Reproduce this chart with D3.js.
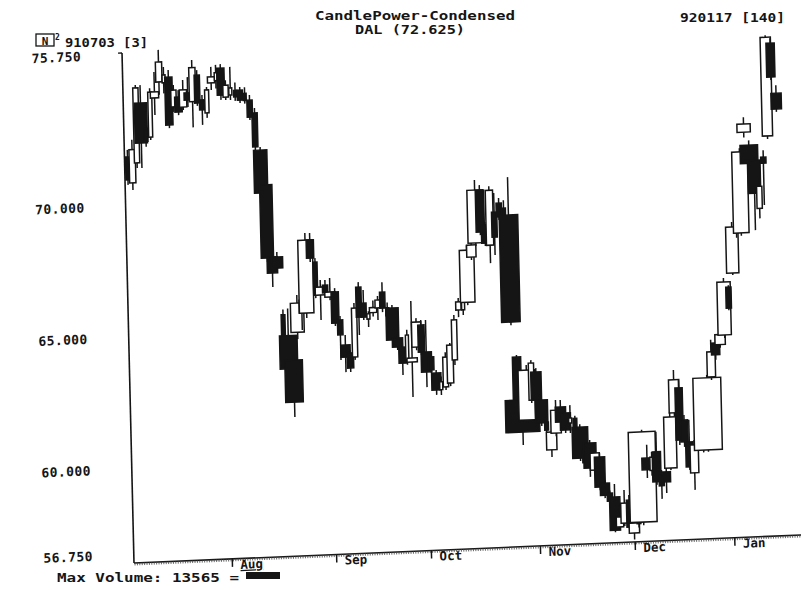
<!DOCTYPE html>
<html><head><meta charset="utf-8">
<script src="https://cdn.jsdelivr.net/npm/d3@7"></script>
<style>
body{margin:0;background:#fff}
text{font-family:"DejaVu Sans Mono","Liberation Mono",monospace;font-weight:bold;fill:#151515}
</style>
</head><body><svg id="c" width="801" height="590"></svg>
<script>
// ---- data (DAL daily, 910703 .. 920117) ----
const opens = [71.84,70.85,71.60,73.87,72.90,72.56,74.04,74.64,74.60,74.81,73.67,74.04,73.65,74.18,73.84,74.84,73.89,73.39,74.52,74.60,
75.07,73.96,74.03,74.20,74.20,74.07,73.81,73.31,71.89,70.56,67.81,67.80,65.60,64.80,63.86,64.91,66.13,65.63,68.40,67.55,
66.29,66.66,66.20,66.38,65.31,64.35,64.04,63.88,66.53,65.91,65.30,65.54,65.71,66.30,65.70,65.68,64.53,64.18,63.69,63.60,
64.16,64.99,63.96,63.76,63.14,62.50,62.60,62.74,63.61,65.50,65.50,65.78,67.49,68.02,70.02,68.69,67.91,69.16,69.50,69.30,
69.03,63.62,61.98,61.21,61.96,63.02,61.95,61.10,60.04,60.67,61.65,61.42,61.03,61.20,60.86,59.90,60.24,59.20,59.69,58.69,
58.30,58.15,57.00,57.14,58.01,56.75,57.10,57.15,59.58,59.10,59.80,58.90,59.02,59.16,61.25,62.19,60.96,60.12,58.94,60.10,
59.85,59.79,62.56,63.84,63.77,64.13,65.94,66.47,68.00,67.98,71.80,71.30,70.72,68.88,70.82,71.62,75.14,73.23];
const highs = [72.11,72.49,74.56,74.55,73.20,74.42,75.03,75.86,75.20,75.08,74.50,74.30,74.68,74.78,75.42,75.03,74.08,74.37,75.13,75.20,
75.22,74.60,75.10,74.50,74.32,74.30,74.00,73.50,72.01,70.67,68.00,67.99,65.80,65.83,64.05,66.33,66.32,68.67,68.66,67.70,
66.86,66.85,66.92,66.53,65.46,64.73,64.15,65.93,66.72,66.41,65.60,66.00,66.16,66.68,65.90,65.80,64.65,64.34,64.83,65.92,
65.26,65.18,65.17,63.87,63.26,63.00,63.92,64.26,65.32,65.96,66.00,67.95,68.14,70.41,70.21,68.80,70.15,69.89,69.69,69.60,
70.47,63.70,62.09,63.30,63.48,63.17,62.06,61.40,60.80,61.93,61.92,61.53,61.71,61.30,60.97,60.10,60.35,59.96,59.84,58.81,
58.40,58.64,57.83,58.40,58.20,57.24,57.50,60.66,60.08,59.80,60.56,59.10,59.29,61.29,62.88,62.50,61.15,60.96,60.19,60.20,
60.30,62.64,63.97,64.15,64.34,66.29,66.01,68.41,68.70,71.20,72.37,71.48,70.83,70.02,71.08,75.45,75.33,73.53];
const lows = [70.78,70.58,71.41,71.40,72.20,72.45,73.39,74.15,74.20,72.87,73.48,73.35,73.54,73.64,72.86,73.67,72.94,73.20,74.25,74.30,
73.86,73.85,73.84,73.80,73.71,73.68,73.05,71.90,70.15,67.63,66.67,67.23,64.60,63.35,61.70,64.65,64.99,65.44,67.56,66.18,
65.34,66.24,66.08,65.09,63.79,63.32,63.32,63.77,64.71,65.27,65.00,65.39,65.25,65.54,65.20,64.35,64.08,63.12,63.50,62.27,
64.04,63.85,62.62,63.15,62.31,62.30,62.48,62.62,63.42,65.23,65.30,65.67,67.38,67.90,68.31,67.89,67.23,67.53,68.86,68.70,
64.84,61.87,60.27,61.10,61.85,61.84,60.96,60.50,59.77,60.55,60.97,60.66,60.65,60.40,59.57,59.30,58.95,59.09,58.43,58.12,
57.80,56.81,56.88,57.03,56.87,56.50,56.95,57.03,58.82,58.90,58.54,58.00,58.22,59.08,61.13,60.02,59.94,59.05,58.29,59.80,
59.70,59.72,62.44,63.20,63.65,64.01,65.06,66.39,67.80,67.87,71.60,70.50,68.06,68.50,69.00,71.50,73.74,72.52];
const closes = [70.97,72.11,74.45,72.35,72.40,74.27,74.27,75.40,74.90,72.99,74.31,73.47,74.30,73.91,75.13,73.78,73.51,74.26,74.75,74.90,
74.04,74.41,74.30,73.95,73.82,73.80,73.16,72.02,70.26,67.78,67.20,67.38,64.80,63.54,62.26,66.02,65.64,68.40,67.71,66.29,
66.59,66.36,66.39,65.20,64.74,63.89,63.47,65.74,65.39,65.38,65.50,65.73,66.01,65.69,65.40,64.47,64.19,63.57,64.63,63.75,
65.11,63.96,63.20,63.27,62.50,62.80,63.73,64.18,65.13,65.81,65.90,67.76,67.95,70.03,68.43,68.00,70.00,68.21,68.97,69.00,
64.96,61.98,60.76,63.11,63.37,61.96,61.08,60.80,60.72,61.54,61.08,60.77,61.22,60.60,59.68,59.50,59.29,59.85,58.55,58.23,
58.00,56.88,57.38,57.90,56.98,57.13,57.30,60.58,59.13,59.60,58.66,58.50,58.64,61.10,62.51,60.21,60.13,59.17,60.00,60.00,
60.10,62.53,63.51,63.39,64.15,66.14,65.14,68.22,68.50,71.06,72.11,70.61,69.46,69.72,70.59,75.37,73.85,72.625];
const volumes = [1600,2500,2100,4900,1500,1600,3300,2500,1200,2900,2100,2900,2900,2900,2500,2100,2100,1600,2900,1200,
2900,2100,1200,1200,2100,1200,2100,2100,5300,4900,4100,4500,1500,7000,7000,5300,2100,5800,2900,1600,
4100,2100,4100,2900,2100,3700,2500,2100,2100,2100,1200,2900,2100,2100,1200,4900,4100,2900,1200,4100,
3700,2500,4100,2100,3700,1200,2100,2500,2100,2100,1200,5800,3700,6200,3300,2900,2900,2100,2100,1500,
7400,3300,13565,6600,2100,4100,4900,1500,4100,4100,4100,4100,1200,1500,6200,2000,4900,3700,4100,3700,
2100,4100,2900,2900,2100,4100,1500,10700,4100,1500,3300,2000,3300,4900,4100,2900,2900,2900,3300,1500,
1500,11100,3300,3300,4100,5300,2100,4900,1500,6200,5300,7000,4900,2100,2100,4100,3300,4100];
const monthLabels = ["Aug","Sep","Oct","Nov","Dec","Jan"];
const monthStartDay = [20,42,62,85,105,126];
const yTicks = [56.75,60,65,70,75.75];
const maxVolume = 13565;
const symbol = "DAL";
const firstLabel = "910703 [3]";
const lastLabel = "920117 [140]";

// ---- drawing ----
const svg = d3.select("#c");
const ink = "#151515";
const n = closes.length;

// header
svg.append("text").attr("x",315).attr("y",20).attr("font-size",13)
  .attr("textLength",200).attr("lengthAdjust","spacingAndGlyphs").text("CandlePower-Condensed");
svg.append("text").attr("x",355).attr("y",34).attr("font-size",12)
  .attr("textLength",110).attr("lengthAdjust","spacingAndGlyphs")
  .text(symbol+" ("+d3.format(".3f")(closes[n-1])+")");
svg.append("text").attr("x",680).attr("y",22).attr("font-size",13)
  .attr("textLength",105).attr("lengthAdjust","spacingAndGlyphs").text(lastLabel);
svg.append("text").attr("x",65).attr("y",47).attr("font-size",13)
  .attr("textLength",83).attr("lengthAdjust","spacingAndGlyphs").text(firstLabel);
// N2 logo
svg.append("rect").attr("x",36).attr("y",34).attr("width",18).attr("height",12)
  .attr("fill","none").attr("stroke",ink).attr("stroke-width",1.3);
svg.append("text").attr("x",45).attr("y",44.5).attr("font-size",11).attr("text-anchor","middle").attr("font-weight","normal").text("N");
svg.append("text").attr("x",55).attr("y",40).attr("font-size",8).text("2");

// plot group, skewed like the scanned original
const g = svg.append("g").attr("transform","matrix(1,-0.042,0.0235,1,134,563)");
const x = d3.scaleLinear().domain([0, n-1]).range([3, 3+4.74*(n-1)]);
const y = d3.scaleLinear().domain([56.75, 75.75]).range([-9, -508.7]);
const w = d3.scaleLinear().domain([0, maxVolume]).range([0, 34]);

// axes lines
g.append("line").attr("x1",0).attr("y1",0).attr("x2",0).attr("y2",-510)
  .attr("stroke",ink).attr("stroke-width",1.6);
g.append("line").attr("x1",-4).attr("y1",-510).attr("x2",0).attr("y2",-510)
  .attr("stroke",ink).attr("stroke-width",1.4);
g.append("line").attr("x1",0).attr("y1",0).attr("x2",668).attr("y2",0)
  .attr("stroke",ink).attr("stroke-width",1.6);
g.append("g").selectAll("line").data(d3.range(1, 668, 2.4)).join("line")
  .attr("x1",d=>d).attr("x2",d=>d).attr("y1",0).attr("y2",2.5)
  .attr("stroke","#444").attr("stroke-width",0.8);

// y axis labels
const ya = g.append("g").attr("transform","translate(-41,0)")
  .call(d3.axisLeft(y).tickValues(yTicks).tickSize(0).tickPadding(0).tickFormat(d3.format(".3f")));
ya.select(".domain").remove();
ya.selectAll("text").attr("font-size",13).attr("letter-spacing","0.4px")
  .attr("font-family",null).attr("fill",ink).attr("dy","0.35em");

// x axis month ticks
const xa = g.append("g").call(d3.axisBottom(x).tickValues(monthStartDay).tickSize(8)
  .tickFormat((d,i)=>monthLabels[i]));
xa.select(".domain").remove();
xa.selectAll(".tick line").attr("stroke",ink).attr("stroke-width",1.5);
xa.selectAll(".tick text").attr("font-size",12.5).attr("font-family",null).attr("fill",ink)
  .attr("text-anchor","start").attr("x",8).attr("y",1).attr("dy","0.75em")
  .attr("text-decoration",(d,i)=>i===0?"underline":null);

// candles
const idx = d3.range(n);
const cg = g.append("g");
const cs = cg.selectAll("g.c").data(idx).join("g").attr("class","c");
cs.append("line")
  .attr("x1",i=>x(i)).attr("x2",i=>x(i))
  .attr("y1",i=>y(highs[i])).attr("y2",i=>y(lows[i]))
  .attr("stroke",ink).attr("stroke-width",1.5);
cs.append("rect")
  .attr("x",i=>x(i)-Math.max(3,w(volumes[i]))/2)
  .attr("width",i=>Math.max(3,w(volumes[i])))
  .attr("y",i=>y(Math.max(opens[i],closes[i])))
  .attr("height",i=>Math.max(1.5,Math.abs(y(opens[i])-y(closes[i]))))
  .attr("fill",i=>closes[i]>=opens[i]?"#fff":ink)
  .attr("stroke",ink).attr("stroke-width",1.5);

// max volume legend
svg.append("text").attr("x",57).attr("y",582).attr("font-size",13)
  .attr("textLength",182).attr("lengthAdjust","spacingAndGlyphs")
  .text("Max Volume: "+maxVolume+" =");
svg.append("rect").attr("x",246).attr("y",572).attr("width",w(maxVolume)).attr("height",7).attr("fill",ink);
</script>
</body></html>
